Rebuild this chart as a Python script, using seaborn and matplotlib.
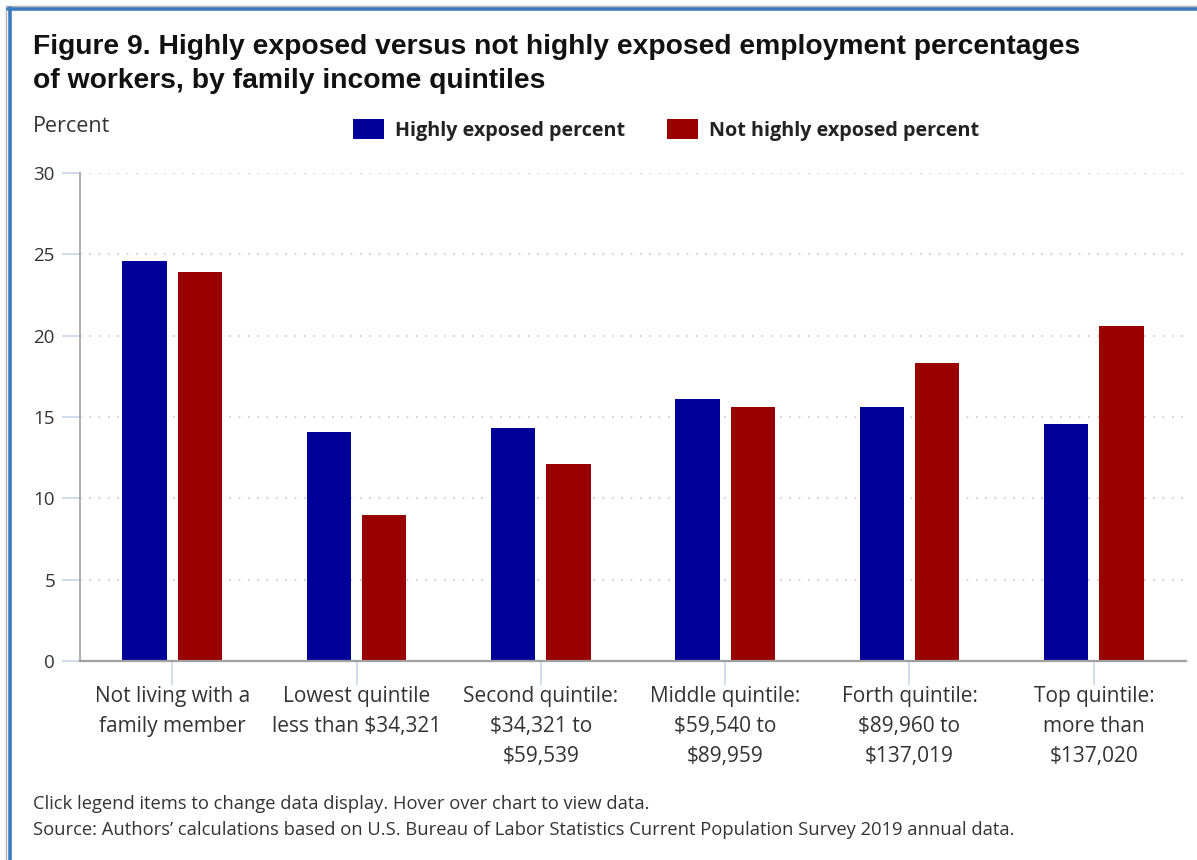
import matplotlib
matplotlib.use("Agg")
import matplotlib.pyplot as plt
from matplotlib.lines import Line2D
import seaborn as sns
import pandas as pd

# Data: employment percentages by family income quintile
categories = [
    "Not living with a\nfamily member",
    "Lowest quintile\nless than $34,321",
    "Second quintile:\n$34,321 to\n$59,539",
    "Middle quintile:\n$59,540 to\n$89,959",
    "Forth quintile:\n$89,960 to\n$137,019",
    "Top quintile:\nmore than\n$137,020",
]
series_names = ["Highly exposed percent", "Not highly exposed percent"]
highly_exposed = [24.6, 14.1, 14.3, 16.1, 15.6, 14.6]
not_highly_exposed = [23.9, 9.0, 12.1, 15.6, 18.3, 20.6]
y_ticks = [0, 5, 10, 15, 20, 25, 30]

colors = ["#000099", "#990000"]

df = pd.DataFrame({
    "category": categories * 2,
    "series": [series_names[0]] * len(categories) + [series_names[1]] * len(categories),
    "value": highly_exposed + not_highly_exposed,
})

sns.set_theme(style="white")
plt.rcParams["font.family"] = ["Open Sans", "DejaVu Sans"]

W, H = 1197, 860
fig = plt.figure(figsize=(W / 100, H / 100), dpi=100)
ax = fig.add_axes([80 / W, 1 - 661 / H, (1186 - 80) / W, (661 - 173) / H])

sns.barplot(
    data=df, x="category", y="value", hue="series",
    order=categories, hue_order=series_names,
    palette=colors, width=0.6, gap=0.2, saturation=1,
    linewidth=0, ax=ax, legend=True, zorder=3,
)

ax.set_ylim(0, 30)
ax.set_xlim(-0.5, len(categories) - 0.5)
ax.set_yticks(y_ticks)
ax.set_xlabel("")
ax.set_ylabel("")

# Dotted horizontal gridlines
for yv in y_ticks[1:]:
    ax.axhline(yv, color="#c8c8c8", lw=1.2, ls=(0, (1.0, 4.6)), zorder=1)

for side in ["top", "right"]:
    ax.spines[side].set_visible(False)
ax.spines["left"].set_color("#a0a0a0")
ax.spines["left"].set_linewidth(1.2)
ax.spines["bottom"].set_color("#a0a0a0")
ax.spines["bottom"].set_linewidth(1.6)
ax.spines["left"].set_zorder(4)
ax.spines["bottom"].set_zorder(4)

ax.tick_params(axis="y", which="major", left=True, length=13, width=1.2,
               color="#c5d6e8", pad=5, labelsize=13.5, labelcolor="#333333")
ax.tick_params(axis="x", which="major", bottom=True, length=17, width=1.2,
               color="#c5d6e8", pad=1, labelsize=15, labelcolor="#333333")
for lbl in ax.get_xticklabels():
    lbl.set_linespacing(1.57)
    lbl.set_verticalalignment("top")

# Legend across the top
handles, labels = ax.get_legend_handles_labels()
ax.get_legend().remove()
leg = fig.legend(
    handles, labels, ncol=2, loc="center left",
    bbox_to_anchor=(335 / W, 1 - 130 / H), frameon=False,
    prop={"family": ["Open Sans", "DejaVu Sans"], "weight": "bold", "size": 14.2},
    handlelength=1.6, handleheight=1.2, handletextpad=0.55, columnspacing=2.1,
)
for t in leg.get_texts():
    t.set_color("#222222")

# Title, axis caption and notes
fig.text(33 / W, 1 - 63.5 / H,
         "Figure 9. Highly exposed versus not highly exposed employment percentages\n"
         "of workers, by family income quintiles",
         family=["Liberation Sans", "DejaVu Sans"], weight="bold", size=20.3,
         color="#111111", va="center", ha="left", linespacing=1.4)
fig.text(33 / W, 1 - 126 / H, "Percent", size=15.5, color="#333333",
         va="center", ha="left")
fig.text(33 / W, 1 - 804 / H,
         "Click legend items to change data display. Hover over chart to view data.",
         size=13.2, color="#333333", va="center", ha="left")
fig.text(33 / W, 1 - 830 / H,
         "Source: Authors\u2019 calculations based on U.S. Bureau of Labor Statistics "
         "Current Population Survey 2019 annual data.",
         size=13.2, color="#333333", va="center", ha="left")

# Page frame on the top and left edges
fig.add_artist(Line2D([6 / W, 1], [1 - 6 / H, 1 - 6 / H], transform=fig.transFigure,
                      color="#b0b0b0", lw=1.0))
fig.add_artist(Line2D([6 / W, 6 / W], [0, 1 - 6 / H], transform=fig.transFigure,
                      color="#b0b0b0", lw=1.0))
fig.add_artist(Line2D([8 / W, 1], [1 - 9 / H, 1 - 9 / H], transform=fig.transFigure,
                      color="#3b7cc0", lw=2.6))
fig.add_artist(Line2D([9.5 / W, 9.5 / W], [0, 1 - 8 / H], transform=fig.transFigure,
                      color="#3b7cc0", lw=2.6))

fig.savefig("out.png", dpi=100)
